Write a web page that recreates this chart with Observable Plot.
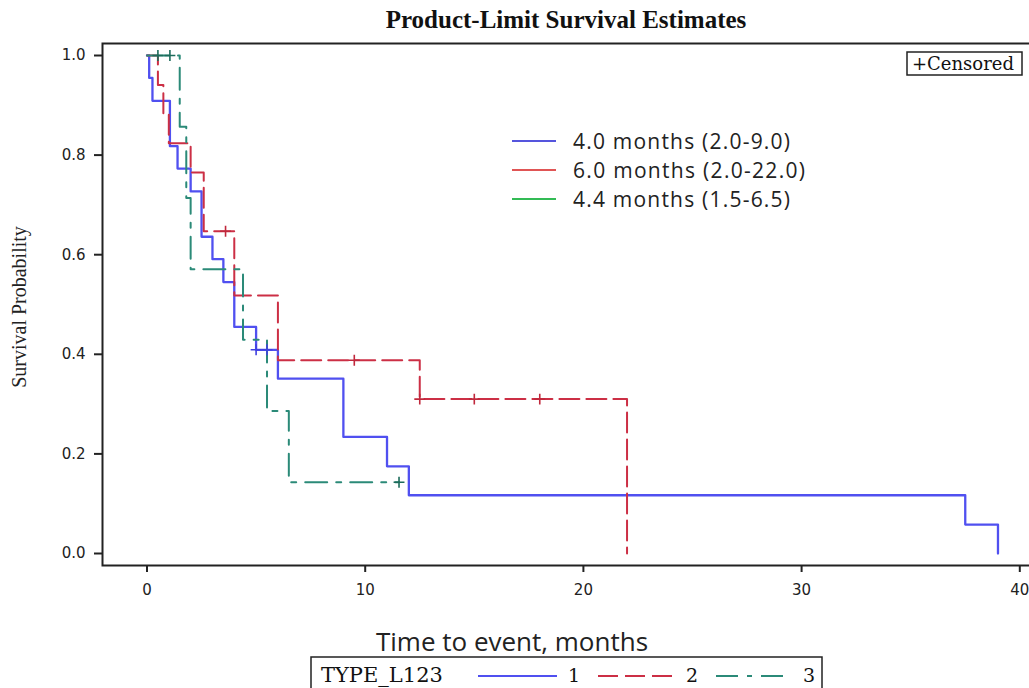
<!DOCTYPE html>
<html><head><meta charset="utf-8">
<script src="https://cdn.jsdelivr.net/npm/d3@7"></script>
<script src="https://cdn.jsdelivr.net/npm/@observablehq/plot@0.6"></script>
<style>
body{margin:0;background:#fff;}
#wrap{position:relative;width:1029px;height:688px;overflow:hidden;background:#fff;}
#wrap svg{position:absolute;left:0;top:0;}
</style></head><body><div id="wrap"></div>
<script>
// ---- data ----
const groups = ["1", "2", "3"];
const medianLabels = ["4.0 months (2.0-9.0)", "6.0 months (2.0-22.0)", "4.4 months (1.5-6.5)"];
const xTicks = [0, 10, 20, 30, 40];
const yTicks = [0, 0.2, 0.4, 0.6, 0.8, 1.0];

const g1Time = [0, 0.1, 0.25, 1.05, 1.4, 2.0, 2.5, 3.0, 3.5, 4.0, 5.0, 6.0, 9.0, 11.0, 12.0, 37.5, 39.0];
const g1Surv = [1.0, 0.955, 0.909, 0.818, 0.773, 0.727, 0.636, 0.591, 0.545, 0.455, 0.409, 0.351, 0.234, 0.175, 0.117, 0.058, 0.0];
const g1CensTime = [5.0, 5.5];
const g1CensSurv = [0.409, 0.409];

const g2Time = [0, 0.5, 0.75, 1.0, 2.0, 2.6, 4.0, 6.0, 12.5, 22.0];
const g2Surv = [1.0, 0.941, 0.882, 0.824, 0.765, 0.647, 0.518, 0.388, 0.310, 0.0];
const g2CensTime = [3.6, 9.5, 12.5, 15.0, 18.0];
const g2CensSurv = [0.647, 0.388, 0.310, 0.310, 0.310];

const g3Time = [0, 1.5, 1.8, 2.0, 4.4, 5.5, 6.5, 11.55];
const g3Surv = [1.0, 0.857, 0.714, 0.571, 0.429, 0.286, 0.143, 0.143];
const g3CensTime = [0.5, 1.05, 11.55];
const g3CensSurv = [1.0, 1.0, 0.143];

// ---- styles ----
const lineColors = ["#5050f0", "#cc2f45", "#2b8a78"];
const censColors = ["#4040e0", "#c0283c", "#1d6b5b"];
const legendColors = ["#5555dd", "#e05555", "#33bb55"];
const dashes = [null, "20,7", "22,9,5,9"];

const times = [g1Time, g2Time, g3Time], survs = [g1Surv, g2Surv, g3Surv];
const cT = [g1CensTime, g2CensTime, g3CensTime], cS = [g1CensSurv, g2CensSurv, g3CensSurv];
const curves = groups.map((g, i) => times[i].map((t, j) => ({group: g, time: t, surv: survs[i][j]})));
const cens = groups.map((g, i) => cT[i].map((t, j) => ({group: g, time: t, surv: cS[i][j]})));

const pxPerMonth = 21.82, x0 = 146.5, left = 102, W = 1029;
const chart = Plot.plot({
  width: W, height: 688,
  marginLeft: left, marginRight: -3, marginTop: 43, marginBottom: 123,
  style: {fontFamily: "DejaVu Sans", fontSize: "15px", color: "#222", background: "transparent"},
  x: {domain: [-(x0 - left) / pxPerMonth, (W + 3 - x0) / pxPerMonth]},
  y: {domain: [-0.0241, 1.0241]},
  marks: [
    Plot.frame({stroke: "#222", strokeWidth: 2}),
    ...curves.map((d, i) => Plot.line(d, {x: "time", y: "surv", curve: "step-after", stroke: lineColors[i], strokeWidth: i === 0 ? 2.3 : 2, strokeDasharray: dashes[i]})),
    ...cens.map((d, i) => Plot.dot(d, {x: "time", y: "surv", symbol: "plus", r: 3.6, stroke: censColors[i], strokeWidth: 1.6})),
    Plot.axisX({ticks: xTicks, tickSize: 7, tickPadding: 12, label: null, strokeWidth: 2, fontSize: 15}),
    Plot.axisY({ticks: yTicks, tickFormat: d3.format(".1f"), tickSize: 8, tickPadding: 9, label: null, strokeWidth: 2, fontSize: 15})
  ]
});
document.getElementById("wrap").appendChild(chart);

// ---- overlay texts & legends ----
const ov = d3.create("svg").attr("width", W).attr("height", 688);
ov.append("text").attr("x", 566).attr("y", 28).attr("text-anchor", "middle")
  .attr("font-family", "Liberation Serif").attr("font-weight", "bold").attr("font-size", 25).attr("fill", "#111")
  .text("Product-Limit Survival Estimates");
ov.append("text").attr("transform", "translate(26,307) rotate(-90)").attr("text-anchor", "middle")
  .attr("font-family", "Liberation Serif").attr("font-size", 20).attr("fill", "#222")
  .text("Survival Probability");
ov.append("text").attr("x", 512).attr("y", 651).attr("text-anchor", "middle")
  .attr("font-family", "Open Sans").attr("font-size", 26).attr("fill", "#222")
  .text("Time to event, months");

// in-plot legend
const rowsY = [141, 170, 199];
const rowsW = [217, 232, 217];
medianLabels.forEach((lab, i) => {
  ov.append("line").attr("x1", 512).attr("x2", 556).attr("y1", rowsY[i]).attr("y2", rowsY[i])
    .attr("stroke", legendColors[i]).attr("stroke-width", 1.8);
  ov.append("text").attr("x", 573).attr("y", rowsY[i]).attr("dy", "0.36em")
    .attr("font-family", "Open Sans").attr("font-size", 21).attr("fill", "#222")
    .attr("textLength", rowsW[i]).attr("lengthAdjust", "spacing").text(lab);
});

// censored box
ov.append("rect").attr("x", 907).attr("y", 52).attr("width", 115).attr("height", 23)
  .attr("fill", "none").attr("stroke", "#222").attr("stroke-width", 1.5);
ov.append("text").attr("x", 912).attr("y", 70).attr("font-family", "DejaVu Serif").attr("font-size", 18)
  .attr("fill", "#111").text("+Censored");

// bottom legend
ov.append("rect").attr("x", 311).attr("y", 657).attr("width", 511).attr("height", 40)
  .attr("fill", "none").attr("stroke", "#222").attr("stroke-width", 1.5);
ov.append("text").attr("x", 321).attr("y", 682).attr("font-family", "DejaVu Serif").attr("font-size", 21)
  .attr("fill", "#111").text("TYPE_L123");
const legX = [[478, 557, 568], [598, 676, 686], [716, 792, 803]];
groups.forEach((g, i) => {
  ov.append("line").attr("x1", legX[i][0]).attr("x2", legX[i][1]).attr("y1", 676).attr("y2", 676)
    .attr("stroke", lineColors[i]).attr("stroke-width", 2).attr("stroke-dasharray", dashes[i]);
  ov.append("text").attr("x", legX[i][2]).attr("y", 682).attr("font-family", "DejaVu Serif").attr("font-size", 19)
    .attr("fill", "#111").text(g);
});
document.getElementById("wrap").appendChild(ov.node());
</script></body></html>
